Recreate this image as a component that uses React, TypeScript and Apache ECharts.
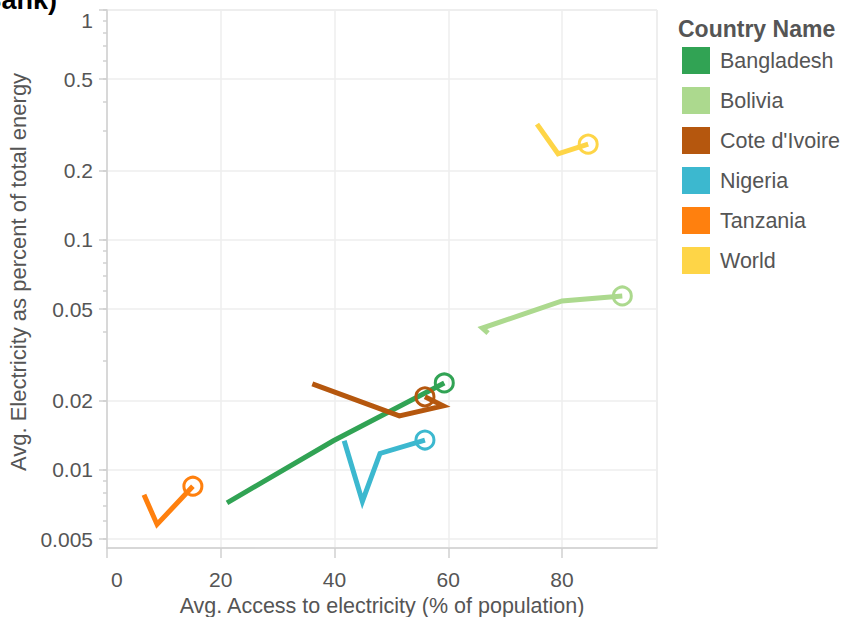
import React, { useEffect, useRef } from "react";
import * as echarts from "echarts";

const countries = ["Bangladesh", "Bolivia", "Cote d'Ivoire", "Nigeria", "Tanzania", "World"];
const colors = ["#31a354", "#acd98e", "#b5570e", "#3cb8cf", "#ff800e", "#fed547"];

const bangladeshAccess = [21.1, 39.8, 59.3];
const bangladeshElec = [0.0072, 0.0134, 0.0239];
const boliviaAccess = [67.0, 66.0, 80.0, 90.6];
const boliviaElec = [0.0394, 0.0414, 0.0543, 0.0571];
const coteAccess = [36.1, 51.4, 59.1, 55.9];
const coteElec = [0.0237, 0.0172, 0.019, 0.0208];
const nigeriaAccess = [41.7, 44.9, 48.0, 55.9];
const nigeriaElec = [0.0134, 0.0073, 0.0118, 0.0135];
const tanzaniaAccess = [6.5, 8.8, 15.1];
const tanzaniaElec = [0.0078, 0.0058, 0.0085];
const worldAccess = [75.6, 79.3, 84.6];
const worldElec = [0.319, 0.237, 0.261];

const accessSets = [bangladeshAccess, boliviaAccess, coteAccess, nigeriaAccess, tanzaniaAccess, worldAccess];
const elecSets = [bangladeshElec, boliviaElec, coteElec, nigeriaElec, tanzaniaElec, worldElec];

const yLabelTicks = [0.005, 0.01, 0.02, 0.05, 0.1, 0.2, 0.5, 1];
const yMinorTicks = [0.005, 0.006, 0.007, 0.008, 0.009, 0.01, 0.02, 0.03, 0.04, 0.05, 0.06, 0.07, 0.08, 0.09, 0.1, 0.2, 0.3, 0.4, 0.5, 0.6, 0.7, 0.8, 0.9, 1];

const xTitle = "Avg. Access to electricity (% of population)";
const yTitle = "Avg. Electricity as percent of total energy";
const legendTitle = "Country Name";
const chartTitleTail = "(World Bank)";

const FONT = "'Liberation Sans', Arial, Helvetica, sans-serif";

export default function App() {
  const ref = useRef<HTMLDivElement>(null);
  useEffect(() => {
    if (!ref.current) return;
    const chart = echarts.init(ref.current, null, { renderer: "svg" });
    const series = countries.map((name, i) => {
      const xs = accessSets[i];
      const ys = elecSets[i];
      return {
        name,
        type: "line",
        xAxisIndex: 0,
        yAxisIndex: 0,
        color: colors[i],
        lineStyle: { width: 5, color: colors[i], cap: "butt", join: "miter" },
        showSymbol: true,
        data: xs.map((x, k) =>
          k === xs.length - 1
            ? {
                value: [x, ys[k]],
                symbol: "circle",
                symbolSize: 18,
                itemStyle: { color: "rgba(0,0,0,0)", borderColor: colors[i], borderWidth: 3 },
              }
            : { value: [x, ys[k]], symbol: "none" }
        ),
      };
    });
    const yMin = 0.00458;
    const yMax = 1;
    chart.setOption({
      animation: false,
      textStyle: { fontFamily: FONT },
      grid: { left: 107, top: 10, width: 550, height: 538, outerBoundsMode: "none", containLabel: false, show: true, borderColor: "#dddddd", borderWidth: 1, backgroundColor: "transparent" },
      xAxis: {
        type: "value",
        min: 0,
        max: 96.7,
        interval: 20,
        name: xTitle,
        nameLocation: "middle",
        nameGap: 44,
        nameTextStyle: { fontSize: 21.5, color: "#555", fontFamily: FONT },
        axisLine: { show: true, lineStyle: { color: "#d0d0d0", width: 1.5 } },
        axisTick: { show: true, length: 10, lineStyle: { color: "#d0d0d0", width: 1.5 } },
        axisLabel: { fontSize: 21, color: "#555", margin: 21, fontFamily: FONT, alignMinLabel: "left", showMaxLabel: false, formatter: (v: number) => (v === 0 ? "{z|0}" : String(v)), rich: { z: { fontSize: 21, color: "#555", fontFamily: FONT, padding: [0, 0, 0, 4] } } },
        splitLine: { show: true, lineStyle: { color: "#eeeeee", width: 1.5 } },
      },
      yAxis: [
        {
          type: "log",
          logBase: 10,
          min: yMin,
          max: yMax,
          name: yTitle,
          nameLocation: "middle",
          nameGap: 76,
          nameTextStyle: { fontSize: 22, color: "#555", fontFamily: FONT, padding: [0, 0, 0, 14] },
          axisLine: { show: true, lineStyle: { color: "#d0d0d0", width: 1.5 } },
          axisTick: { show: true, length: 8, customValues: yLabelTicks, lineStyle: { color: "#d0d0d0", width: 1.5 } },
          axisLabel: { fontSize: 21, color: "#555", margin: 14, fontFamily: FONT, customValues: yLabelTicks, formatter: (v: number) => String(v), verticalAlignMaxLabel: "top" },
          splitLine: { show: true, lineStyle: { color: "#eeeeee", width: 1.5 } },
        },
        {
          type: "log",
          logBase: 10,
          min: yMin,
          max: yMax,
          position: "left",
          axisLine: { show: false },
          axisTick: { show: true, length: 4, customValues: yMinorTicks, lineStyle: { color: "#d0d0d0", width: 1.5 } },
          axisLabel: { show: false },
          splitLine: { show: false },
        },
      ],
      legend: {
        orient: "vertical",
        left: 682,
        top: 47,
        padding: 0,
        icon: "rect",
        itemWidth: 28,
        itemHeight: 27,
        itemGap: 13,
        textStyle: { fontSize: 21.5, color: "#555", fontFamily: FONT, padding: [0, 0, 0, 5] },
        data: countries.map((n, i) => ({ name: n, itemStyle: { color: colors[i], borderWidth: 0 } })),
      },
      graphic: [
        {
          type: "text",
          left: 678,
          top: 17,
          style: { text: legendTitle, font: `bold 23px ${FONT}`, fill: "#555" },
        },
        {
          type: "text",
          x: 57,
          y: 13,
          style: { text: chartTitleTail, font: `bold 27px ${FONT}`, fill: "#000", textAlign: "right", textVerticalAlign: "bottom" },
        },
      ],
      series,
    });
    return () => chart.dispose();
  }, []);
  return <div ref={ref} style={{ position: "absolute", left: 0, top: 0, width: 843, height: 617 }} />;
}
